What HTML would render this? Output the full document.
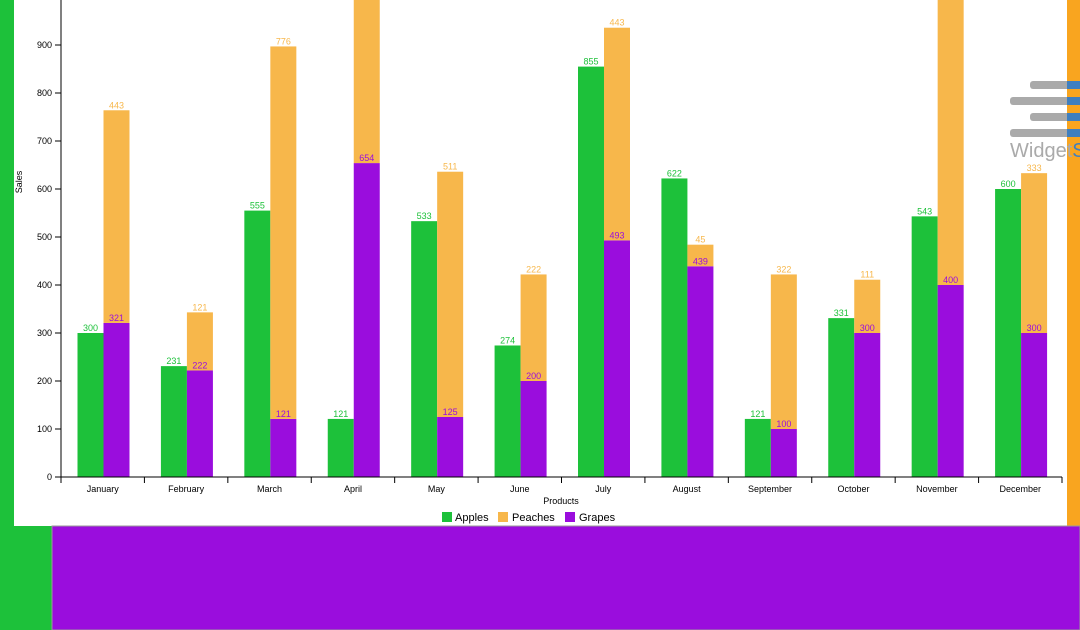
<!DOCTYPE html>
<html><head><meta charset="utf-8"><style>
body{margin:0;width:1080px;height:630px;overflow:hidden;background:#fff;font-family:"Liberation Sans",sans-serif}
</style></head><body>
<svg width="1080" height="630" style="position:absolute;left:0;top:0">
<rect x="0" y="0" width="1080" height="630" fill="#1dc13a"/>
<rect x="14" y="0" width="1053" height="526" fill="#fff"/>
<rect x="1067" y="0" width="13" height="526" fill="#f9a51f"/>
<rect x="52" y="526" width="1028" height="104" fill="#9a0ddd" stroke="#999" stroke-width="1"/>
<g id="plot"></g>
<g>
<rect x="1030" y="81" width="40" height="8" rx="3" fill="#aaa"/><rect x="1067" y="81" width="13" height="8" fill="#3f7fbf"/>
<rect x="1010" y="97" width="60" height="8" rx="3" fill="#aaa"/><rect x="1067" y="97" width="13" height="8" fill="#3f7fbf"/>
<rect x="1030" y="113" width="40" height="8" rx="3" fill="#aaa"/><rect x="1067" y="113" width="13" height="8" fill="#3f7fbf"/>
<rect x="1010" y="129" width="60" height="8" rx="3" fill="#aaa"/><rect x="1067" y="129" width="13" height="8" fill="#3f7fbf"/>
<text x="1010" y="157" font-size="20" fill="#aaa">Widget<tspan fill="#3f7fbf">S</tspan></text>
</g>
<text x="22" y="182" font-size="9" transform="rotate(-90 22 182)" text-anchor="middle">Sales</text>
<text x="561" y="504" font-size="9" text-anchor="middle">Products</text>
<g font-size="11">
<rect x="442" y="512" width="10" height="10" fill="#1dc13a"/><text x="455" y="521">Apples</text>
<rect x="498" y="512" width="10" height="10" fill="#f7b74b"/><text x="512" y="521">Peaches</text>
<rect x="565" y="512" width="10" height="10" fill="#9a0ddd"/><text x="579" y="521">Grapes</text>
</g>
</svg>
<script>
const months=["January","February","March","April","May","June","July","August","September","October","November","December"];
const apples=[300,231,555,121,533,274,855,622,121,331,543,600];
const grapes=[321,222,121,654,125,200,493,439,100,300,400,300];
const peaches=[443,121,776,500,511,222,443,45,322,111,700,333];
const yTicks=[0,100,200,300,400,500,600,700,800,900,1000];
const NS="http://www.w3.org/2000/svg";
const g=document.getElementById('plot');
const x0=61,x1=1062,yb=477,k=0.48,bw=(x1-x0)/months.length;
const y=v=>yb-v*k;
function mk(t,a,txt){const e=document.createElementNS(NS,t);for(const n in a)e.setAttribute(n,a[n]);if(txt!==undefined)e.textContent=txt;g.appendChild(e);return e;}
months.forEach((m,i)=>{
 const bs=x0+i*bw,ax=bs+16.5,gx=ax+26;
 let e=mk('rect',{x:ax,y:y(apples[i]),width:26,height:apples[i]*k,fill:'#1dc13a'});
 
 
 e=mk('rect',{x:gx,y:y(grapes[i]),width:26,height:grapes[i]*k,fill:'#9a0ddd'});
 
 
 e=mk('rect',{x:gx,y:y(grapes[i]+peaches[i]),width:26,height:peaches[i]*k,fill:'#f7b74b'});
 
 
 e=mk('text',{x:ax+13,y:y(apples[i])-2,'font-size':9,'text-anchor':'middle',fill:'#1dc13a'},apples[i]);
 
 
 e=mk('text',{x:gx+13,y:y(grapes[i])-2,'font-size':9,'text-anchor':'middle',fill:'#9a0ddd'},grapes[i]);
 
 
 e=mk('text',{x:gx+13,y:y(grapes[i]+peaches[i])-2,'font-size':9,'text-anchor':'middle',fill:'#f7b74b'},peaches[i]);
 
 
 e=mk('text',{x:bs+bw/2,y:492,'font-size':9,'text-anchor':'middle'},m);
 
 
});
for(let i=0;i<=months.length;i++){const e=mk('line',{x1:x0+i*bw,x2:x0+i*bw,y1:yb,y2:yb+6,stroke:'#000'});
 
 }
let ax=mk('line',{x1:x0,x2:x1,y1:yb,y2:yb,stroke:'#000'});


ax=mk('line',{x1:x0,x2:x0,y1:0,y2:yb,stroke:'#000'});


yTicks.forEach(t=>{
 let e=mk('line',{x1:x0-6,x2:x0,y1:y(t),y2:y(t),stroke:'#000'});
 
 
 e=mk('text',{x:x0-9,y:y(t)+3,'font-size':9,'text-anchor':'end'},t);
 
 
});
</script>
</body></html>
